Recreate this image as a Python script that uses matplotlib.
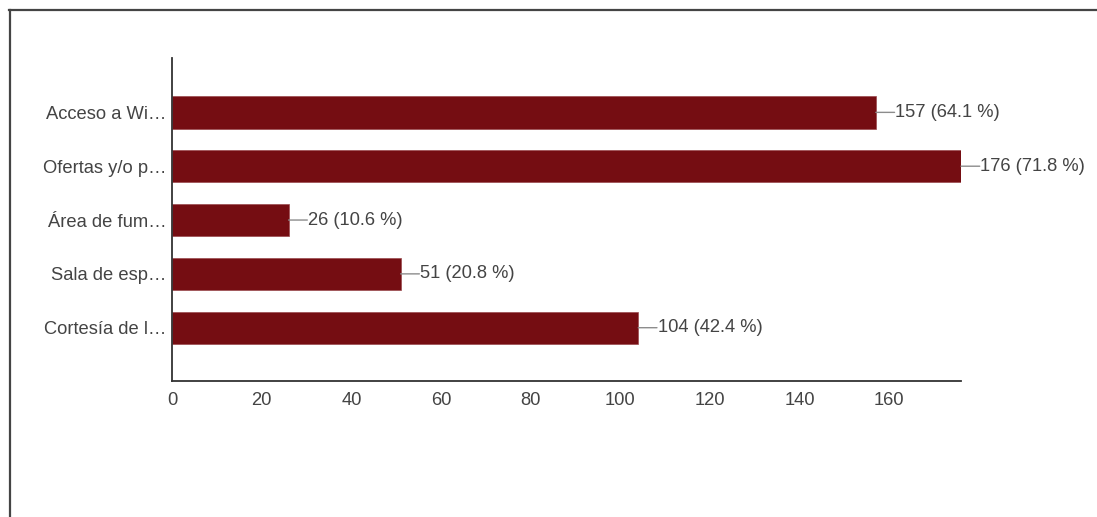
import matplotlib.pyplot as plt
from matplotlib.lines import Line2D

plt.rcParams['font.family'] = ['Liberation Sans', 'DejaVu Sans']

etiquetas = ['Acceso a Wi…', 'Ofertas y/o p…', 'Área de fum…', 'Sala de esp…', 'Cortesía de l…']
valores = [157, 176, 26, 51, 104]
porcentajes = [64.1, 71.8, 10.6, 20.8, 42.4]

color_barra = '#750d12'
color_texto = '#444444'

W, H = 1097, 517
fig = plt.figure(figsize=(W / 100, H / 100), dpi=100)
ax = fig.add_axes([172 / W, 1 - 381 / H, (961 - 172) / W, (381 - 58) / H])

pos = list(range(len(valores)))
ax.barh(pos, valores, height=0.6, color=color_barra, edgecolor='#9a4a4e', linewidth=0.5)

for p, v, pc in zip(pos, valores, porcentajes):
    ax.annotate('', xy=(v, p), xytext=(13.5, 0), textcoords='offset points',
                arrowprops=dict(arrowstyle='-', color='#8c8c8c', lw=1, shrinkA=0, shrinkB=0),
                annotation_clip=False)
    ax.annotate(f'{v} ({pc} %)', xy=(v, p), xytext=(14, 0), textcoords='offset points',
                va='center', ha='left', fontsize=13.2, color=color_texto, annotation_clip=False)

ax.set_xlim(0, 176)
ax.set_ylim(len(valores) - 0.01, -1.01)
ax.set_yticks(pos)
ax.set_yticklabels(etiquetas)
ax.set_xticks(range(0, 161, 20))
ax.tick_params(axis='both', length=0, labelsize=13.2, labelcolor=color_texto)
ax.tick_params(axis='y', pad=4)
ax.tick_params(axis='x', pad=8)

for s in ['top', 'right']:
    ax.spines[s].set_visible(False)
for s in ['left', 'bottom']:
    ax.spines[s].set_color('#333333')
    ax.spines[s].set_linewidth(1.3)

# marco exterior
fig.add_artist(Line2D([9 / W, 1], [1 - 9.5 / H, 1 - 9.5 / H], color='#444444', lw=1.6))
fig.add_artist(Line2D([9.5 / W, 9.5 / W], [0, 1 - 9.5 / H], color='#444444', lw=1.6))

fig.savefig('out.png', dpi=100)
